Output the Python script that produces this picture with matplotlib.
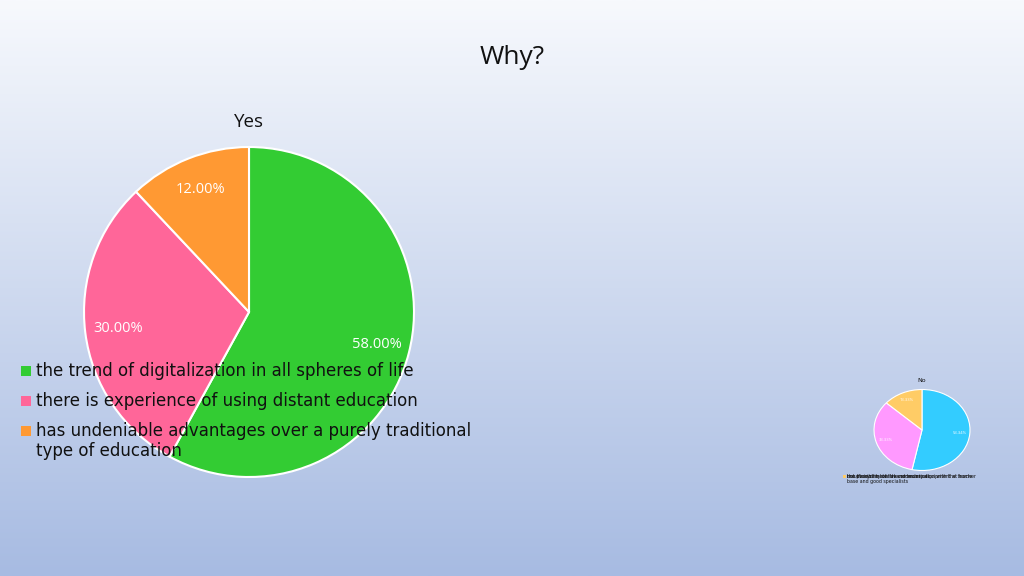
import matplotlib
matplotlib.use('Agg')
import matplotlib.pyplot as plt
import matplotlib.transforms as mtrans
import numpy as np
from matplotlib.patches import Rectangle

yes_labels = [
    'the trend of digitalization in all spheres of life',
    'there is experience of using distant education',
    'has undeniable advantages over a purely traditional\ntype of education',
]
yes_values = [58, 30, 12]
yes_colors = ['#33cc33', '#ff6699', '#ff9933']

no_labels = [
    'the possibility of live communication with the teacher',
    'not everyone has the necessary equipment at home',
    'insufficient material and technical\nbase and good specialists',
]
no_values = [53.33, 33.33, 13.33]
no_colors = ['#33ccff', '#ff99ff', '#ffcc66']

plt.rcParams['font.family'] = ['DejaVu Sans']

W, H = 1024, 576
fig = plt.figure(figsize=(W / 100, H / 100), dpi=100)

# background gradient
bg = fig.add_axes([0, 0, 1, 1], zorder=-1)
top = np.array([247, 249, 253]) / 255
bottom = np.array([167, 187, 226]) / 255
t = np.linspace(0, 1, 256)[:, None]
grad = top[None, :] * (1 - t) + bottom[None, :] * t
bg.imshow(grad[:, None, :], aspect='auto', extent=[0, W, H, 0])
bg.set_xlim(0, W)
bg.set_ylim(H, 0)
bg.axis('off')

# overlay in pixel space for the legends (drawn above the pies)
ov = fig.add_axes([0, 0, 1, 1], zorder=10)
ov.set_xlim(0, W)
ov.set_ylim(H, 0)
ov.patch.set_alpha(0)
ov.axis('off')

fig.text(0.5, 0.9, 'Why?', ha='center', va='center', fontsize=19,
         family='Open Sans', color='#111111')


def pixel_legend(colors, labels, x0, y_rows, box, fontsize):
    for c, lab, y in zip(colors, labels, y_rows):
        ov.add_patch(Rectangle((x0, y - box / 2), box, box, color=c,
                               linewidth=0))
        shift = mtrans.ScaledTranslation(0, fontsize * 0.56 / 72,
                                         fig.dpi_scale_trans)
        ov.text(x0 + box * 1.45, y, lab, ha='left', va='top',
                fontsize=fontsize, color='#111111',
                transform=ov.transData + shift, linespacing=1.15)


# Yes pie
ax = fig.add_axes([(249 - 165) / W, (H - 312 - 165) / H, 330 / W, 330 / H])
wedges, _, autotexts = ax.pie(
    yes_values, colors=yes_colors, startangle=90, counterclock=False,
    autopct='%.2f%%', pctdistance=0.8,
    wedgeprops=dict(edgecolor='white', linewidth=1.5),
    textprops=dict(color='white', fontsize=10.5, family='Open Sans'),
)
ax.set_xlim(-1.0, 1.0)
ax.set_ylim(-1.0, 1.0)
ax.set_aspect('equal')
fig.text(249 / W, 1 - 122 / H, 'Yes', ha='center', va='center',
         fontsize=13.5, family='Open Sans', color='#111111')

pixel_legend(yes_colors, yes_labels, 20.5, [371, 401, 431], 10.5, 12)

# No pie
ax2 = fig.add_axes([(922 - 48) / W, (H - 430 - 40.5) / H, 96 / W, 81 / H])
wedges2, _, _ = ax2.pie(
    no_values, colors=no_colors, startangle=90, counterclock=False,
    autopct='%.2f%%', pctdistance=0.8,
    wedgeprops=dict(edgecolor='white', linewidth=0.8),
    textprops=dict(color='white', fontsize=3, family='Open Sans'),
)
ax2.set_xlim(-1.0, 1.0)
ax2.set_ylim(-1.0, 1.0)
ax2.set_aspect('auto')
fig.text(922 / W, 1 - 381 / H, 'No', ha='center', va='center',
         fontsize=4.5, color='#111111')

# the small chart's legend entries sit on top of each other
pixel_legend(no_colors, no_labels, 843, [476.5, 476.5, 476.5], 3, 3.4)

fig.savefig('out.png', dpi=100)
